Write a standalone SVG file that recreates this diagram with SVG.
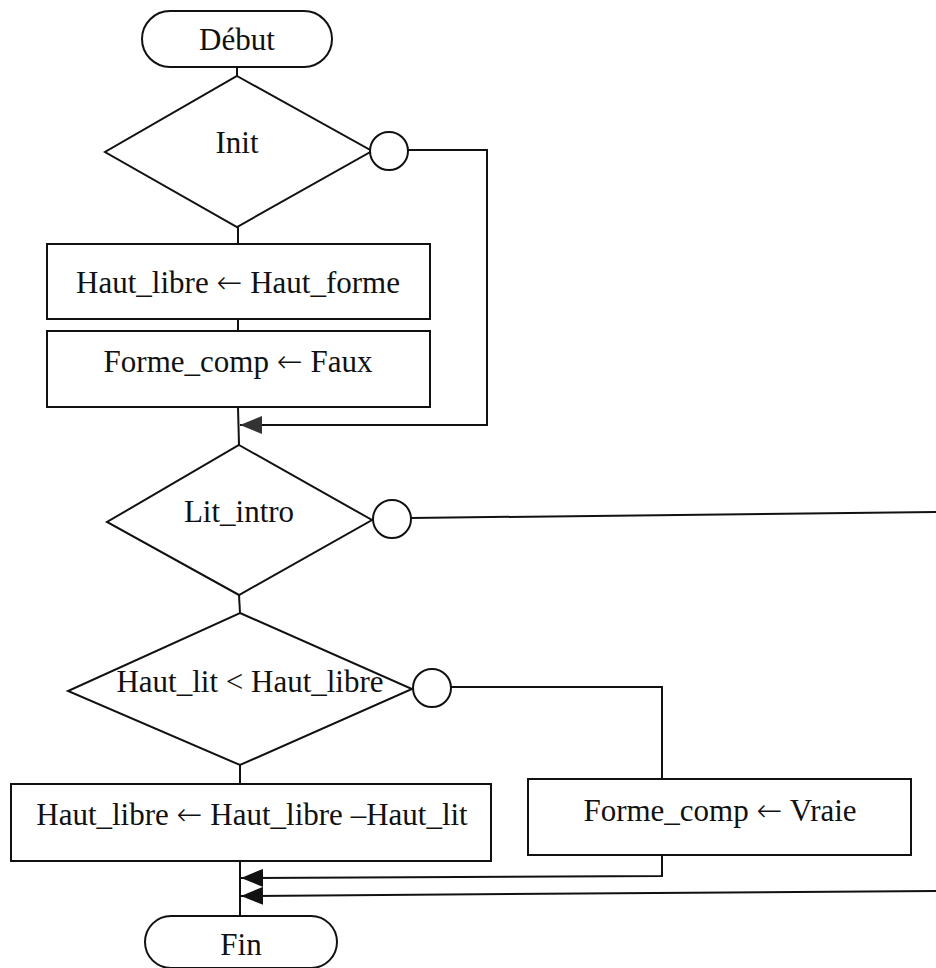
<svg xmlns="http://www.w3.org/2000/svg" width="936" height="968" viewBox="0 0 936 968">
<style>
.s{fill:#fff;stroke:#111;stroke-width:2}
.c{fill:none;stroke:#111;stroke-width:2}
.t{font-family:"Liberation Serif","Times New Roman",serif;font-size:31px;fill:#111}
.a{font-family:"DejaVu Sans","Noto Sans",sans-serif;font-weight:200;font-size:31px}
</style>
<defs>
<marker id="ah" markerUnits="userSpaceOnUse" markerWidth="22" markerHeight="18" refX="22" refY="9" orient="auto"><path d="M0,0 L22,9 L0,18 z" fill="#111"/></marker>
<marker id="ah2" markerUnits="userSpaceOnUse" markerWidth="22" markerHeight="18" refX="22" refY="9" orient="auto"><path d="M0,0 L22,9 L0,18 z" fill="#333"/></marker>
</defs>
<rect width="936" height="968" fill="#fff"/>
<g id="connectors">
<line class="c" x1="237" y1="67" x2="237" y2="76"/>
<line class="c" x1="238" y1="227" x2="238" y2="244"/>
<line class="c" x1="238" y1="319" x2="238" y2="331"/>
<line class="c" x1="238" y1="407" x2="239" y2="445"/>
<polyline class="c" points="408,150 487,150 487,425 240,425" marker-end="url(#ah2)"/>
<line class="c" x1="411" y1="518" x2="936" y2="512"/>
<line class="c" x1="239" y1="595" x2="240" y2="613"/>
<polyline class="c" points="451,687 662,687 662,779"/>
<line class="c" x1="240" y1="765" x2="240" y2="784"/>
<line class="c" x1="240" y1="861" x2="240" y2="916"/>
<polyline class="c" points="662,855 662,876 241,878" marker-end="url(#ah)"/>
<line class="c" x1="936" y1="891" x2="241" y2="896" marker-end="url(#ah)"/>
</g>
<g id="debut">
<rect class="s" x="142" y="11" width="190" height="56" rx="28"/>
<text class="t" x="237" y="50" text-anchor="middle">Début</text>
</g>
<g id="init">
<polygon class="s" points="237,76 372,151 237,227 105,152"/>
<text class="t" x="237" y="153" text-anchor="middle">Init</text>
<circle class="s" cx="389" cy="151" r="19"/>
</g>
<g id="haut-libre-init">
<rect class="s" x="47" y="244" width="383" height="75"/>
<text class="t" x="238" y="293" text-anchor="middle">Haut_libre <tspan class="a">←</tspan> Haut_forme</text>
</g>
<g id="forme-comp-faux">
<rect class="s" x="47" y="331" width="383" height="76"/>
<text class="t" x="238" y="372" text-anchor="middle">Forme_comp <tspan class="a">←</tspan> Faux</text>
</g>
<g id="lit-intro">
<polygon class="s" points="239,445 372,520 239,595 107,522"/>
<text class="t" x="239" y="522" text-anchor="middle">Lit_intro</text>
<circle class="s" cx="392" cy="519" r="19"/>
</g>
<g id="haut-lit-test">
<polygon class="s" points="240,613 412,689 240,765 68,691"/>
<text class="t" x="250" y="692" text-anchor="middle">Haut_lit &lt; Haut_libre</text>
<circle class="s" cx="432" cy="688" r="19"/>
</g>
<g id="haut-libre-update">
<rect class="s" x="11" y="784" width="480" height="77"/>
<text class="t" x="252" y="825" text-anchor="middle">Haut_libre <tspan class="a">←</tspan> Haut_libre –Haut_lit</text>
</g>
<g id="forme-comp-vraie">
<rect class="s" x="528" y="779" width="383" height="76"/>
<text class="t" x="720" y="821" text-anchor="middle">Forme_comp <tspan class="a">←</tspan> Vraie</text>
</g>
<g id="fin">
<rect class="s" x="145" y="916" width="192" height="52" rx="26"/>
<text class="t" x="241" y="955" text-anchor="middle">Fin</text>
</g>
</svg>
